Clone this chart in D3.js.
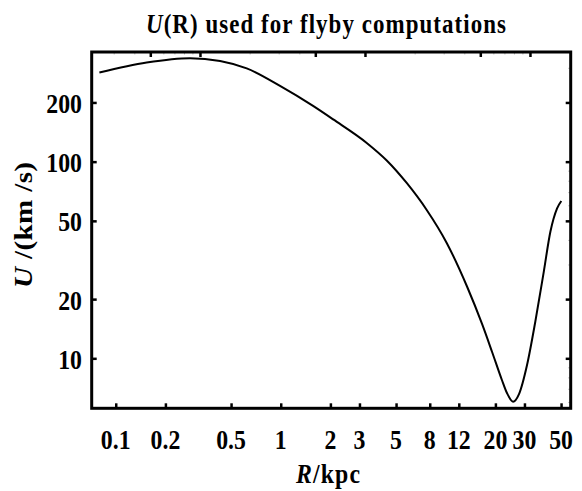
<!DOCTYPE html>
<html>
<head>
<meta charset="utf-8">
<script src="https://cdn.jsdelivr.net/npm/d3@7"></script>
<style>
  html, body { margin: 0; padding: 0; background: #fff; }
  svg { display: block; }
  text { font-family: "Liberation Serif", "Times New Roman", serif; font-weight: bold; fill: #000; }
</style>
</head>
<body>
<script>
// ---- data ----
const radiusKpc = [0.0796, 0.154, 0.282, 0.429, 0.622, 0.990, 1.57, 2.08, 3.32, 4.39, 5.80, 7.67, 10.14, 13.5, 16.6, 19.1, 21.9, 23.5, 25.6, 27.8, 31.1, 34.9, 39.3, 43.1, 47.3, 50.2];
const speedKms  = [283.7, 318.9, 335.7, 325.2, 298, 242.7, 192, 163.9, 124.5, 101.4, 77.9, 56.8, 38.6, 23.05, 14.95, 10.77, 7.76, 6.66, 6.02, 6.58, 9.25, 15.35, 27.6, 44.1, 57.9, 63.1];

const xTickValues = [0.1, 0.2, 0.5, 1, 2, 3, 5, 8, 12, 20, 30, 50];
const xTickLabels = ["0.1", "0.2", "0.5", "1", "2", "3", "5", "8", "12", "20", "30", "50"];
const yTickValues = [10, 20, 50, 100, 200];
const yTickLabels = ["10", "20", "50", "100", "200"];
const topMajorTicks = [0.162, 0.324, 1.62, 3.24, 16.2, 32.4];
const topMinorTicks = [0.0972, 0.1296, 0.1944, 0.2268, 0.2592, 0.2916, 0.648, 0.972, 1.296, 6.48, 9.72, 12.96, 19.44, 22.68, 25.92, 29.16];
const rightMinorTicks = [6, 7, 8, 9, 30, 40, 60, 70, 80, 90, 300];

const titleText = "used for flyby computations";

// ---- layout ----
const W = 582, H = 491;
const L = 91.7, R = 570.7, T = 52, B = 408.3;
const SX = 0.85; // horizontal glyph compression

const svg = d3.select("body").append("svg").attr("width", W).attr("height", H);

const x = d3.scaleLog().domain([0.0715, 57.2]).range([L, R]);
const y = d3.scaleLog().domain([5.57, 361]).range([B, T]);

// curve
const line = d3.line()
  .x((d, i) => x(radiusKpc[i]))
  .y((d, i) => y(speedKms[i]))
  .curve(d3.curveMonotoneX);

svg.append("path")
  .datum(radiusKpc)
  .attr("d", line)
  .attr("fill", "none")
  .attr("stroke", "#000")
  .attr("stroke-width", 2);

// axes via d3 axis generators
const majorLen = 5;
const bottomAxis = d3.axisBottom(x).tickValues(xTickValues).tickSize(-majorLen).tickFormat("");
const leftAxis = d3.axisLeft(y).tickValues(yTickValues).tickSize(-majorLen).tickFormat("");
const topAxis = d3.axisTop(x).tickValues(topMajorTicks).tickSize(-majorLen).tickFormat("");
const rightAxis = d3.axisRight(y).tickValues(yTickValues).tickSize(-majorLen).tickFormat("");
const topMinor = d3.axisTop(x).tickValues(topMinorTicks).tickSize(-2.5).tickFormat("");
const rightMinor = d3.axisRight(y).tickValues(rightMinorTicks).tickSize(-2.5).tickFormat("");

function styleAxis(g, w, col) {
  g.select(".domain").remove();
  g.selectAll(".tick line").attr("stroke", col).attr("stroke-width", w);
}
svg.append("g").attr("transform", `translate(0,${T})`).call(topMinor).call(g => styleAxis(g, 1, "#bbb"));
svg.append("g").attr("transform", `translate(${R},0)`).call(rightMinor).call(g => styleAxis(g, 1, "#bbb"));
svg.append("g").attr("transform", `translate(0,${B})`).call(bottomAxis).call(g => styleAxis(g, 2.5, "#000"));
svg.append("g").attr("transform", `translate(${L},0)`).call(leftAxis).call(g => styleAxis(g, 2.5, "#000"));
svg.append("g").attr("transform", `translate(0,${T})`).call(topAxis).call(g => styleAxis(g, 2.5, "#000"));
svg.append("g").attr("transform", `translate(${R},0)`).call(rightAxis).call(g => styleAxis(g, 2.5, "#000"));

// frame
svg.append("rect")
  .attr("x", L).attr("y", T).attr("width", R - L).attr("height", B - T)
  .attr("fill", "none").attr("stroke", "#000").attr("stroke-width", 3);

// tick labels
const FS = 28;
svg.append("g").selectAll("text").data(xTickValues).join("text")
  .attr("transform", d => `translate(${x(d)},449) scale(${SX},1)`)
  .attr("text-anchor", "middle")
  .attr("font-size", FS)
  .text((d, i) => xTickLabels[i]);

svg.append("g").selectAll("text").data(yTickValues).join("text")
  .attr("transform", d => `translate(82,${y(d) + 10.5}) scale(${SX},1)`)
  .attr("text-anchor", "end")
  .attr("font-size", FS)
  .text((d, i) => yTickLabels[i]);

// title
const title = svg.append("text")
  .attr("transform", `translate(326,33) scale(${SX},1)`)
  .attr("text-anchor", "middle")
  .attr("font-size", 27)
  .attr("textLength", 360 / SX)
  .attr("lengthAdjust", "spacing");
title.append("tspan").attr("font-style", "italic").text("U");
title.append("tspan").text("(R) " + titleText);

// x axis title
const xt = svg.append("text")
  .attr("transform", `translate(328,483) scale(${SX},1)`)
  .attr("text-anchor", "middle")
  .attr("font-size", 28)
  .attr("textLength", 64 / SX)
  .attr("lengthAdjust", "spacing");
xt.append("tspan").attr("font-style", "italic").text("R");
xt.append("tspan").text("/kpc");

// y axis title
const yt = svg.append("text")
  .attr("transform", `translate(31.7,225) rotate(-90) scale(1,${SX})`)
  .attr("text-anchor", "middle")
  .attr("font-size", 29)
  .attr("textLength", 126)
  .attr("lengthAdjust", "spacing");
yt.append("tspan").attr("font-style", "italic").text("U");
yt.append("tspan").text(" /(km /s)");
</script>
</body>
</html>
